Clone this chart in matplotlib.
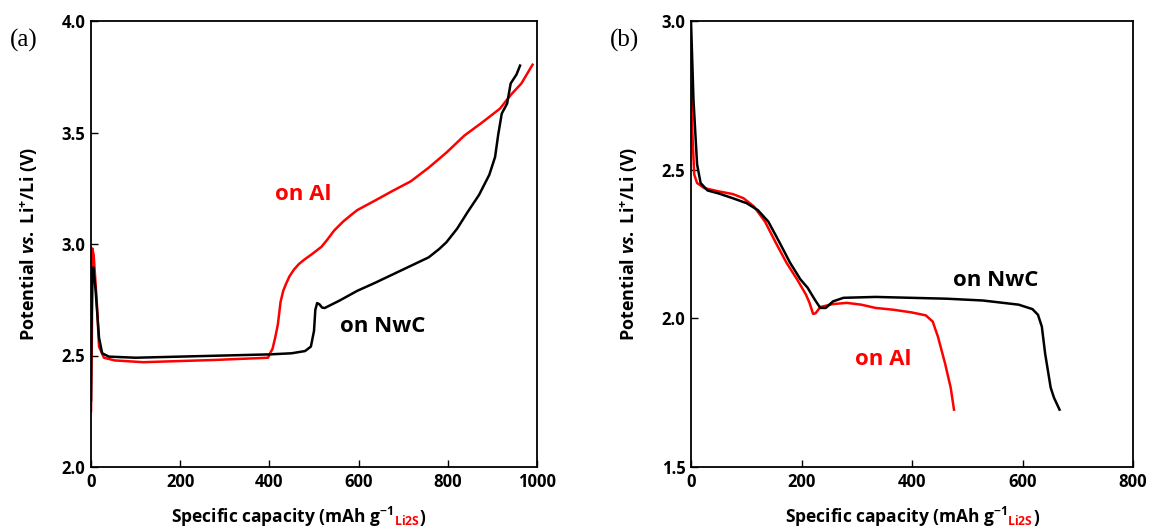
import matplotlib
matplotlib.use('Agg')
import matplotlib.pyplot as plt
from matplotlib.offsetbox import TextArea, HPacker, AnnotationBbox

FONT = 'Open Sans'
plt.rcParams['font.family'] = [FONT, 'DejaVu Sans']
plt.rcParams['font.weight'] = 'bold'
plt.rcParams['mathtext.fontset'] = 'custom'
plt.rcParams['mathtext.rm'] = FONT + ':bold'
plt.rcParams['mathtext.bf'] = FONT + ':bold'
plt.rcParams['mathtext.it'] = FONT + ':italic:bold'

# (a) charge curves
a_nwc_x = [0, 1, 3, 5, 10, 18, 25, 40, 100, 200, 300, 400, 450, 480, 493, 500, 503, 507, 512, 518, 524,
           557, 597, 637, 677, 717, 757, 781, 797, 821, 845, 870, 893, 906, 913, 921, 933, 941, 954, 962]
a_nwc_y = [2.30, 2.60, 2.85, 2.895, 2.80, 2.58, 2.51, 2.495, 2.49, 2.495, 2.50, 2.505, 2.51, 2.52, 2.54,
           2.61, 2.705, 2.735, 2.73, 2.715, 2.713, 2.746, 2.79, 2.826, 2.864, 2.902, 2.94, 2.978, 3.008,
           3.069, 3.145, 3.22, 3.31, 3.39, 3.49, 3.585, 3.63, 3.72, 3.76, 3.80]
a_al_x = [0, 2, 3, 6, 13, 18, 29, 53, 117, 277, 397, 401, 407, 413, 419, 425, 431, 437, 445, 455, 466,
          477, 497, 517, 530, 545, 565, 580, 597, 637, 677, 717, 757, 797, 837, 877, 917, 941, 965, 990]
a_al_y = [2.25, 2.6, 2.98, 2.95, 2.74, 2.54, 2.49, 2.478, 2.47, 2.48, 2.49, 2.508, 2.53, 2.58, 2.64, 2.74,
          2.79, 2.82, 2.855, 2.885, 2.91, 2.928, 2.957, 2.988, 3.02, 3.06, 3.1, 3.125, 3.152, 3.195, 3.239,
          3.281, 3.342, 3.41, 3.486, 3.545, 3.607, 3.668, 3.72, 3.804]

# (b) discharge curves
b_nwc_x = [0, 4.5, 11, 17.4, 30, 50, 75.6, 101, 121, 140, 160, 179, 198, 211, 224, 234, 244, 257, 276,
           334, 463, 528, 593, 618, 628, 635, 641, 651, 657, 667]
b_nwc_y = [3.0, 2.734, 2.518, 2.455, 2.43, 2.42, 2.404, 2.387, 2.364, 2.325, 2.256, 2.188, 2.131, 2.103,
           2.063, 2.035, 2.035, 2.057, 2.069, 2.072, 2.066, 2.06, 2.046, 2.031, 2.012, 1.972, 1.881,
           1.767, 1.733, 1.693]
b_al_x = [0.6, 2.6, 5.8, 11, 24, 50, 75.6, 95, 114, 134, 153, 172.5, 192, 208, 214.5, 221, 225.5, 234,
          257, 282, 308, 334, 366, 399, 425, 437.5, 447, 460, 470, 476]
b_al_y = [2.79, 2.62, 2.484, 2.455, 2.438, 2.427, 2.418, 2.404, 2.376, 2.325, 2.256, 2.188, 2.131, 2.08,
          2.052, 2.015, 2.017, 2.038, 2.048, 2.052, 2.046, 2.035, 2.029, 2.02, 2.01, 1.989, 1.938, 1.847,
          1.767, 1.693]

fig = plt.figure(figsize=(11.55, 5.3), dpi=100)
ax1 = fig.add_axes([91/1155, 63/530, 446/1155, 446/530])
ax2 = fig.add_axes([691/1155, 63/530, 442/1155, 446/530])


def style(ax, xlim, ylim, xticks, yticks, xlab_pos):
    ax.set_xlim(*xlim)
    ax.set_ylim(*ylim)
    ax.set_xticks(xticks)
    ax.set_yticks(yticks)
    ax.set_yticklabels(['%.1f' % v for v in yticks])
    ax.tick_params(direction='in', length=5, width=1, labelsize=12, pad=4)
    for lab in ax.get_xticklabels() + ax.get_yticklabels():
        lab.set_fontweight('bold')
    for s in ax.spines.values():
        s.set_linewidth(1.3)
    ax.set_ylabel(r'Potential $\mathit{vs.}$ Li$^{+}$/Li (V)', fontsize=13, fontweight='bold')
    ax.yaxis.set_label_coords(-0.115, 0.5)
    parts = [TextArea(r'Specific capacity (mAh g$^{\mathrm{-1}}$', textprops=dict(fontsize=12.5, fontweight='bold')),
             TextArea(r'$_{\mathrm{Li2S}}$', textprops=dict(fontsize=12.5, color='red')),
             TextArea(')', textprops=dict(fontsize=12.5, fontweight='bold'))]
    box = HPacker(children=parts, align='baseline', pad=0, sep=0)
    ab = AnnotationBbox(box, (xlab_pos, -0.112), xycoords='axes fraction', frameon=False,
                        box_alignment=(0.5, 0.5), annotation_clip=False)
    ax.add_artist(ab)


ax1.plot(a_al_x, a_al_y, color='red', lw=1.8)
ax1.plot(a_nwc_x, a_nwc_y, color='black', lw=1.8)
style(ax1, (0, 1000), (2.0, 4.0), [0, 200, 400, 600, 800, 1000], [2.0, 2.5, 3.0, 3.5, 4.0], 0.465)
ax1.text(412, 3.22, 'on Al', color='red', fontsize=16, fontweight='bold', va='center')
ax1.text(558, 2.628, 'on NwC', color='black', fontsize=16, fontweight='bold', va='center')

ax2.plot(b_al_x, b_al_y, color='red', lw=1.8)
ax2.plot(b_nwc_x, b_nwc_y, color='black', lw=1.8)
style(ax2, (0, 800), (1.5, 3.0), [0, 200, 400, 600, 800], [1.5, 2.0, 2.5, 3.0], 0.5)
ax2.text(474, 2.126, 'on NwC', color='black', fontsize=16, fontweight='bold', va='center')
ax2.text(297, 1.86, 'on Al', color='red', fontsize=16, fontweight='bold', va='center')

fig.text(10/1155, 1 - 40/530, '(a)', family='Liberation Serif', fontweight='normal', fontsize=18, va='center')
fig.text(610/1155, 1 - 40/530, '(b)', family='Liberation Serif', fontweight='normal', fontsize=18, va='center')

fig.savefig('out.png', dpi=100)
